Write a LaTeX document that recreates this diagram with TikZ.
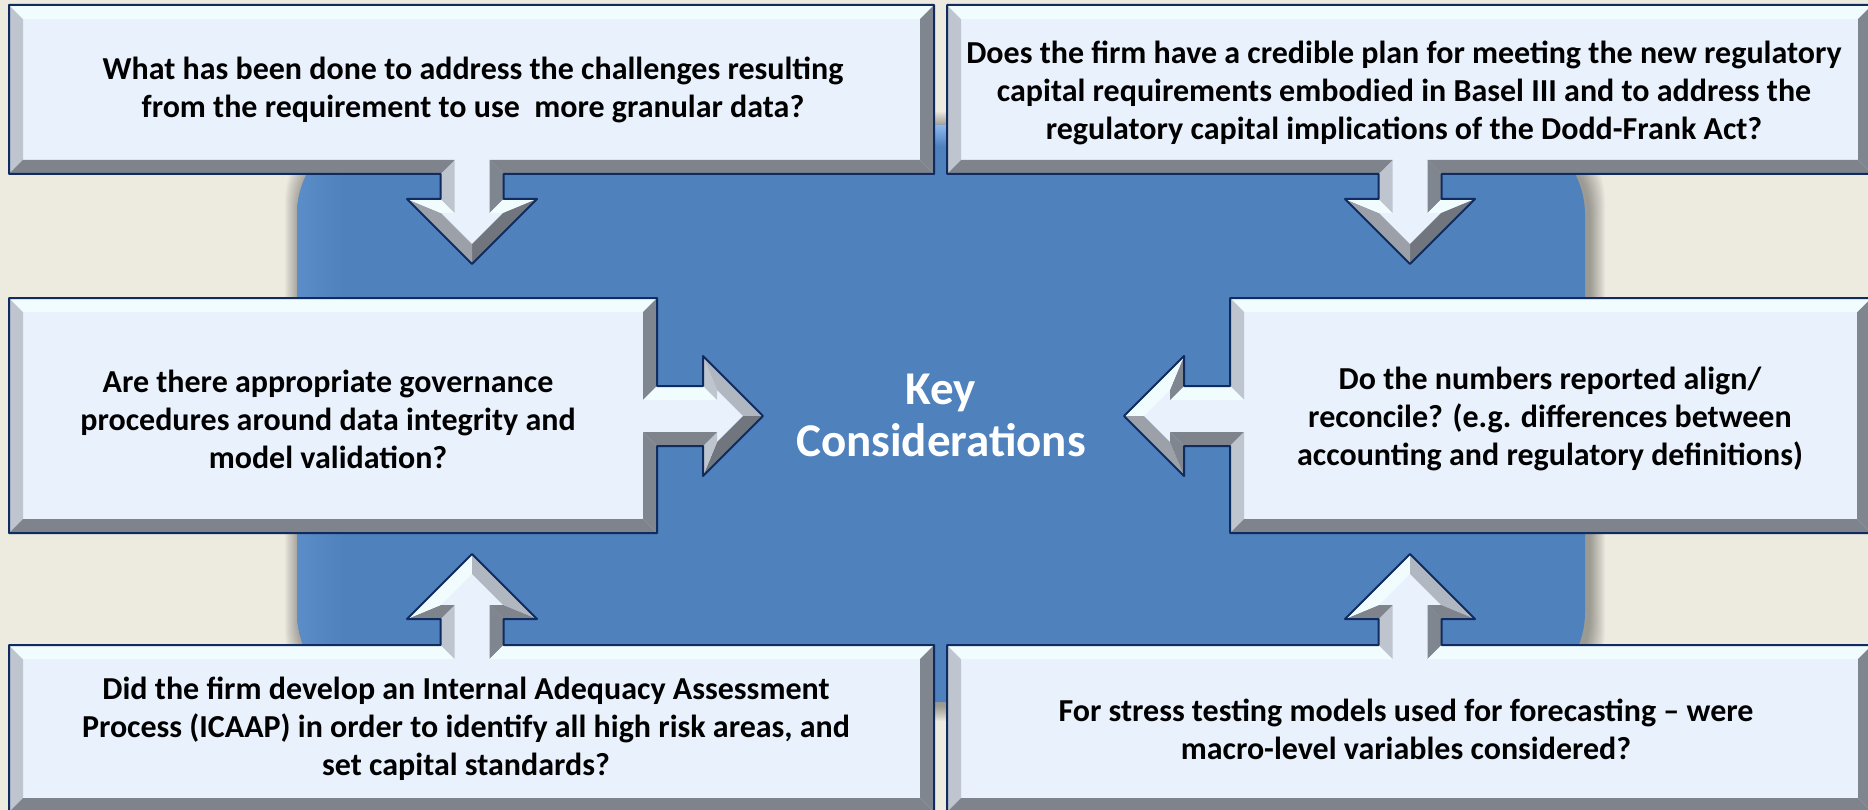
\documentclass[tikz,border=0pt]{standalone}
\usepackage{fontspec}
\setmainfont{Carlito}

\definecolor{page}{HTML}{EDEAE0}
\definecolor{hub}{HTML}{4F81BD}
\definecolor{hublight}{HTML}{5B8DC9}
\definecolor{hubtop}{HTML}{8DB8EE}
\definecolor{face}{HTML}{E9F2FC}
\definecolor{edgeline}{HTML}{0F2B5F}
\definecolor{bup}{HTML}{F1FCFF}
\definecolor{bleft}{HTML}{BEC5CF}
\definecolor{bdownleft}{HTML}{9CA1A9}
\definecolor{bdown}{HTML}{7E838C}
\definecolor{bdownright}{HTML}{70757E}
\definecolor{bright}{HTML}{80868F}
\definecolor{bupright}{HTML}{B1B7C0}

\tikzset{
  callout rim/.style={draw=edgeline, line width=2pt, line join=round},
  boxtext/.style={font=\bfseries\fontsize{32}{38}\selectfont, align=center, text=black},
  hubtext/.style={font=\bfseries\fontsize{47}{52}\selectfont, align=center, text=white},
}

% bevel strips: each item is outer x/y, inset x/y, colour of the strip
% running from the previous item to this one
\newcommand\bevels[1]{%
  \coordinate (lp) at (0,0); \coordinate (lq) at (0,0);
  \foreach \px/\py/\qx/\qy/\C in {#1}{%
    \path[fill=\C] (lp) -- (\px,\py) -- (\qx,\qy) -- (lq) -- cycle;
    \coordinate (lp) at (\px,\py); \coordinate (lq) at (\qx,\qy);
  }%
}
% face, bevels, then the dark rim on top
\newcommand\drawcallout[2]{%
  \fill[face] #1;
  \bevels{#2}
  \draw[callout rim] #1;
}

% box with an arrow pointing down out of its lower edge
\newcommand\downcallout{%
  \drawcallout{(9,5) -- (934,5) -- (934,174) -- (503.5,174) -- (503.5,199) -- (537,199) -- (472,264) -- (407,199) -- (440.5,199) -- (440.5,174) -- (9,174) -- cycle}
  {9/174/23/160/none,
   9/5/23/19/bleft,
   934/5/920/19/bup,
   934/174/920/160/bright,
   503.5/174/489.5/160/bdown,
   503.5/199/489.5/213/bright,
   537/199/503.2/213/bup,
   472/264/472/244.2/bdownright,
   407/199/440.8/213/bdownleft,
   440.5/199/454.5/213/bup,
   440.5/174/454.5/160/bleft,
   9/174/23/160/bdown}%
}

% box with an arrow pointing up out of its upper edge
\newcommand\upcallout{%
  \drawcallout{(9,645) -- (440.5,645) -- (440.5,619) -- (407,619) -- (472,554) -- (537,619) -- (503.5,619) -- (503.5,645) -- (934,645) -- (934,812) -- (9,812) -- cycle}
  {9/812/23/798/none,
   9/645/23/659/bleft,
   440.5/645/454.5/659/bup,
   440.5/619/454.5/605/bleft,
   407/619/440.8/605/bdown,
   472/554/472/573.8/bup,
   537/619/503.2/605/bupright,
   503.5/619/489.5/605/bdown,
   503.5/645/489.5/659/bright,
   934/645/920/659/bup,
   934/812/920/798/bright,
   9/812/23/798/bdown}%
}

\begin{document}
\begin{tikzpicture}[x=1pt, y=-1pt]
  \clip (0,0) rectangle (1868,810);
  \fill[page] (0,0) rectangle (1868,810);

  % soft shadow round the central panel
  \foreach \i in {1,...,16}
    \fill[black, opacity=0.022, rounded corners=90pt]
      (297-\i+4, 125-\i+3) rectangle (1585+\i+4, 702+\i+3);

  % central panel
  \fill[hub, rounded corners=90pt] (297,125) rectangle (1585,702);
  \begin{scope}
    \clip[rounded corners=90pt] (297,125) rectangle (1585,702);
    \shade[left color=hublight, right color=hub] (297,125) rectangle (345,702);
    \shade[top color=hubtop, bottom color=hub] (297,125) rectangle (1585,146);
  \end{scope}

  % upper row
  \downcallout
  \begin{scope}[xshift=938pt]
    \downcallout
  \end{scope}

  % middle row, arrow to the right
  \drawcallout{(9,298) -- (657,298) -- (657,386) -- (703,386) -- (703,356) -- (763,416) -- (703,476) -- (703,446) -- (657,446) -- (657,533) -- (9,533) -- cycle}
  {9/533/23/519/none,
   9/298/23/312/bleft,
   657/298/643/312/bup,
   657/386/643/400/bright,
   703/386/717/400/bup,
   703/356/717/389.8/bleft,
   763/416/743.2/416/bupright,
   703/476/717/442.2/bdownright,
   703/446/717/432/bleft,
   657/446/643/432/bdown,
   657/533/643/519/bright,
   9/533/23/519/bdown}

  % middle row, arrow to the left
  \drawcallout{(1871,298) -- (1230,298) -- (1230,386) -- (1184,386) -- (1184,356) -- (1124,416) -- (1184,476) -- (1184,446) -- (1230,446) -- (1230,533) -- (1871,533) -- cycle}
  {1871/533/1857/519/none,
   1871/298/1857/312/bright,
   1230/298/1244/312/bup,
   1230/386/1244/400/bleft,
   1184/386/1170/400/bup,
   1184/356/1170/389.8/bright,
   1124/416/1143.8/416/bup,
   1184/476/1170/442.2/bdownleft,
   1184/446/1170/432/bright,
   1230/446/1244/432/bdown,
   1230/533/1244/519/bleft,
   1871/533/1857/519/bdown}

  % lower row
  \upcallout
  \begin{scope}[xshift=938pt]
    \upcallout
  \end{scope}

  % texts
  \node[hubtext] (hubtitle) at (941,415) {Key\\Considerations};
  \node[boxtext] (qdata) at (473,90)
    {What has been done to address the challenges resulting\\from the requirement to use~ more granular data?};
  \node[boxtext] (qbasel) at (1404,93)
    {Does the firm have a credible plan for meeting the new regulatory\\capital requirements embodied in Basel III and to address the\\regulatory capital implications of the Dodd-Frank Act?};
  \node[boxtext] (qgov) at (328,419)
    {Are there appropriate governance\\procedures around data integrity and\\model validation?};
  \node[boxtext] (qnumbers) at (1550,419)
    {Do the numbers reported align/\\reconcile? (e.g. differences between\\accounting and regulatory definitions)};
  \node[boxtext] (qicaap) at (466,729)
    {Did the firm develop an Internal Adequacy Assessment\\Process (ICAAP) in order to identify all high risk areas, and\\set capital standards?};
  \node[boxtext] (qstress) at (1406,729)
    {For stress testing models used for forecasting -- were\\macro-level variables considered?};
\end{tikzpicture}
\end{document}
